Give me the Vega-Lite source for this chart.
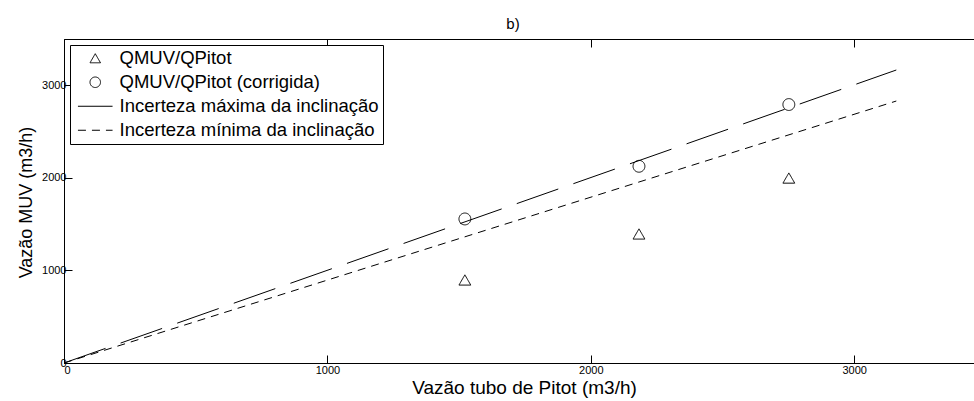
{
  "$schema": "https://vega.github.io/schema/vega-lite/v6.json",
  "width": 910,
  "height": 324,
  "autosize": {"type": "none"},
  "padding": {"left": 64, "top": 39, "right": 0, "bottom": 38},
  "title": {"text": "b)", "fontSize": 15, "fontWeight": "normal", "font": "Liberation Sans", "color": "black", "offset": 7, "dx": -6},
  "config": {
    "view": {"stroke": "black", "strokeWidth": 1},
    "axis": {
      "grid": false,
      "labelFont": "Liberation Sans",
      "labelFontSize": 11,
      "labelColor": "black",
      "tickColor": "black",
      "domainColor": "black",
      "tickSize": -8,
      "labelPadding": 4,
      "format": "d",
      "titleFont": "Liberation Sans",
      "titleFontSize": 18,
      "titleFontWeight": "normal",
      "titleColor": "black"
    },
    "legend": {
      "labelFont": "Liberation Sans",
      "labelFontSize": 18.5,
      "labelColor": "black",
      "labelLimit": 500
    }
  },
  "datasets": {
    "points": [
      {"x": 1522, "y": 897, "series": "QMUV/QPitot"},
      {"x": 2183, "y": 1394, "series": "QMUV/QPitot"},
      {"x": 2752, "y": 1998, "series": "QMUV/QPitot"},
      {"x": 1522, "y": 1556, "series": "QMUV/QPitot (corrigida)"},
      {"x": 2183, "y": 2125, "series": "QMUV/QPitot (corrigida)"},
      {"x": 2752, "y": 2792, "series": "QMUV/QPitot (corrigida)"}
    ],
    "lines": [
      {"x": 0, "y": 0, "series": "Incerteza máxima da inclinação"},
      {"x": 3160, "y": 3165, "series": "Incerteza máxima da inclinação"},
      {"x": 0, "y": 0, "series": "Incerteza mínima da inclinação"},
      {"x": 3160, "y": 2830, "series": "Incerteza mínima da inclinação"}
    ]
  },
  "resolve": {"axis": {"x": "independent"}},
  "layer": [
    {
      "data": {"name": "lines"},
      "mark": {"type": "line", "color": "black", "strokeWidth": 1},
      "encoding": {
        "x": {"field": "x", "type": "quantitative", "scale": {"domain": [0, 3455], "nice": false},
              "axis": {"values": [0, 1000, 2000, 3000], "labelPadding": 9, "labelFlush": true, "title": "Vazão tubo de Pitot (m3/h)", "titleFontSize": 19, "titleX": 460, "titleY": 30, "titleBaseline": "alphabetic"}},
        "y": {"field": "y", "type": "quantitative", "scale": {"domain": [0, 3500], "nice": false},
              "axis": {"values": [0, 1000, 2000, 3000], "labelPadding": 6, "title": "Vazão MUV (m3/h)", "titleX": -33, "titleY": 163, "titleAngle": -90, "titleAlign": "center", "titleBaseline": "alphabetic"}},
        "strokeDash": {
          "field": "series", "type": "nominal",
          "scale": {
            "domain": ["QMUV/QPitot", "QMUV/QPitot (corrigida)", "Incerteza máxima da inclinação", "Incerteza mínima da inclinação"],
            "range": [[1, 0], [1, 0], [44, 16], [8, 6]]
          }
        }
      }
    },
    {
      "data": {"name": "points"},
      "mark": {"type": "point", "filled": false, "color": "black", "opacity": 1, "size": 140, "strokeWidth": 1},
      "encoding": {
        "x": {"field": "x", "type": "quantitative", "scale": {"domain": [0, 3455], "nice": false},
              "axis": {"orient": "top", "values": [0, 1000, 2000, 3000], "labels": false, "title": null, "domain": false}},
        "y": {"field": "y", "type": "quantitative"},
        "shape": {
          "field": "series", "type": "nominal",
          "scale": {
            "domain": ["QMUV/QPitot", "QMUV/QPitot (corrigida)", "Incerteza máxima da inclinação", "Incerteza mínima da inclinação"],
            "range": ["triangle-up", "circle", "M-3.3,0L3.3,0", "M-3.3,0L3.3,0"]
          },
          "legend": {
            "title": null,
            "orient": "none",
            "legendX": 6,
            "legendY": 6,
            "strokeColor": "black",
            "fillColor": "white",
            "padding": 4,
            "rowPadding": 5,
            "symbolSize": 110,
            "symbolStrokeWidth": 1,
            "symbolStrokeColor": "black",
            "symbolFillColor": "transparent",
            "symbolOpacity": 1,
            "symbolOffset": 12,
            "labelOffset": 15
          }
        },
        "strokeDash": {
          "field": "series", "type": "nominal"
        }
      }
    }
  ]
}
